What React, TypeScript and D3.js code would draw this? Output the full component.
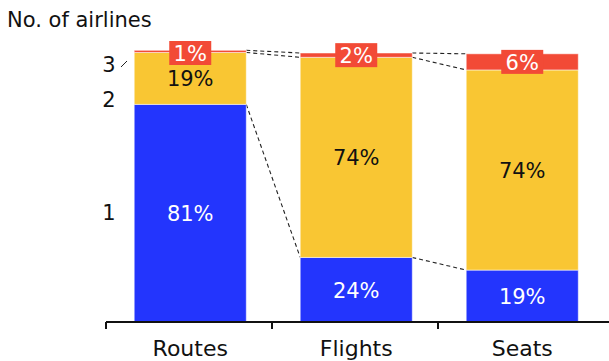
import React from "react";
import * as d3 from "d3";

const categories = ["Routes", "Flights", "Seats"];
const oneAirline = [0.809, 0.24, 0.193];
const twoAirlines = [0.193, 0.744, 0.744];
const threeAirlines = [0.008, 0.016, 0.06];
const seriesNames = ["1", "2", "3"];
const colors = ["#2335FD", "#F9C633", "#F24A36"];
const textColors = ["#ffffff", "#111111", "#ffffff"];

const W = 609;
const H = 361;
const FONT = "'DejaVu Sans', 'Open Sans', sans-serif";

export default function App() {
  const x = d3.scaleBand<string>().domain(categories).range([106, 604]).padding(0);
  const y = d3.scaleLinear().domain([0, 1]).range([322, 53]);
  const bw = x.bandwidth();
  const barX = (c: string) => (x(c) as number) + bw * 0.17;
  const barW = bw * 0.675;

  const rows = categories.map((c, i) => ({
    cat: c,
    "1": oneAirline[i],
    "2": twoAirlines[i],
    "3": threeAirlines[i],
  }));
  const stacked = d3.stack<any>().keys(seriesNames)(rows);

  const connectors: { x1: number; y1: number; x2: number; y2: number }[] = [];
  for (let i = 0; i < categories.length - 1; i++) {
    stacked.forEach((s) => {
      connectors.push({
        x1: barX(categories[i]) + barW,
        y1: y(s[i][1]),
        x2: barX(categories[i + 1]),
        y2: y(s[i + 1][1]),
      });
    });
  }

  const routesIdx = 0;
  const labelY1 = (y(stacked[0][routesIdx][0]) + y(stacked[0][routesIdx][1])) / 2;
  const labelY2 = y(stacked[0][routesIdx][1]) - 4;
  const labelY3 = y(1) + 12;

  return (
    <svg width={W} height={H} style={{ position: "absolute", left: 0, top: 0 }} fontFamily={FONT}>
      <text x={7} y={27} fontSize={21} fill="#111">No. of airlines</text>
      {connectors.map((l, i) => (
        <line key={i} x1={l.x1} y1={l.y1} x2={l.x2} y2={l.y2} stroke="#222" strokeWidth={1.1} strokeDasharray="4,3" />
      ))}
      {stacked.map((s, si) =>
        s.map((d, ci) => (
          <rect
            key={`${si}-${ci}`}
            x={barX(categories[ci])}
            y={y(d[1])}
            width={barW}
            height={y(d[0]) - y(d[1])}
            fill={colors[si]}
            stroke="rgba(255,255,255,0.5)"
            strokeWidth={1}
          />
        ))
      )}
      {stacked.map((s, si) =>
        s.map((d, ci) => {
          const v = d[1] - d[0];
          const label = `${Math.round(v * 100)}%`;
          const cx = barX(categories[ci]) + barW / 2;
          let cy = (y(d[0]) + y(d[1])) / 2;
          if (si === 2) {
            cy = Math.max(cy, y(1));
            return (
              <g key={`l${si}-${ci}`}>
                <rect x={cx - 21} y={cy - 12} width={42} height={24} fill="#F24A36" />
                <text x={cx} y={cy + 1} textAnchor="middle" dominantBaseline="central" fontSize={21} fill="#fff">
                  {label}
                </text>
              </g>
            );
          }
          return (
            <text key={`l${si}-${ci}`} x={cx} y={cy + 1} textAnchor="middle" dominantBaseline="central" fontSize={21} fill={textColors[si]}>
              {label}
            </text>
          );
        })
      )}
      <text x={109} y={labelY1} textAnchor="middle" dominantBaseline="central" fontSize={21} fill="#111">1</text>
      <text x={109} y={labelY2} textAnchor="middle" dominantBaseline="central" fontSize={21} fill="#111">2</text>
      <text x={109} y={labelY3} textAnchor="middle" dominantBaseline="central" fontSize={21} fill="#111">3</text>
      <line x1={121} y1={67} x2={127} y2={61} stroke="#222" strokeWidth={1} />
      <line x1={106} y1={322} x2={W} y2={322} stroke="#111" strokeWidth={2} />
      {categories.map((c) => (
        <line key={c} x1={x(c) as number} y1={322} x2={x(c) as number} y2={329} stroke="#111" strokeWidth={2} />
      ))}
      {categories.map((c) => (
        <text key={`t${c}`} x={barX(c) + barW / 2} y={356} textAnchor="middle" fontSize={22} fill="#111">
          {c}
        </text>
      ))}
    </svg>
  );
}
